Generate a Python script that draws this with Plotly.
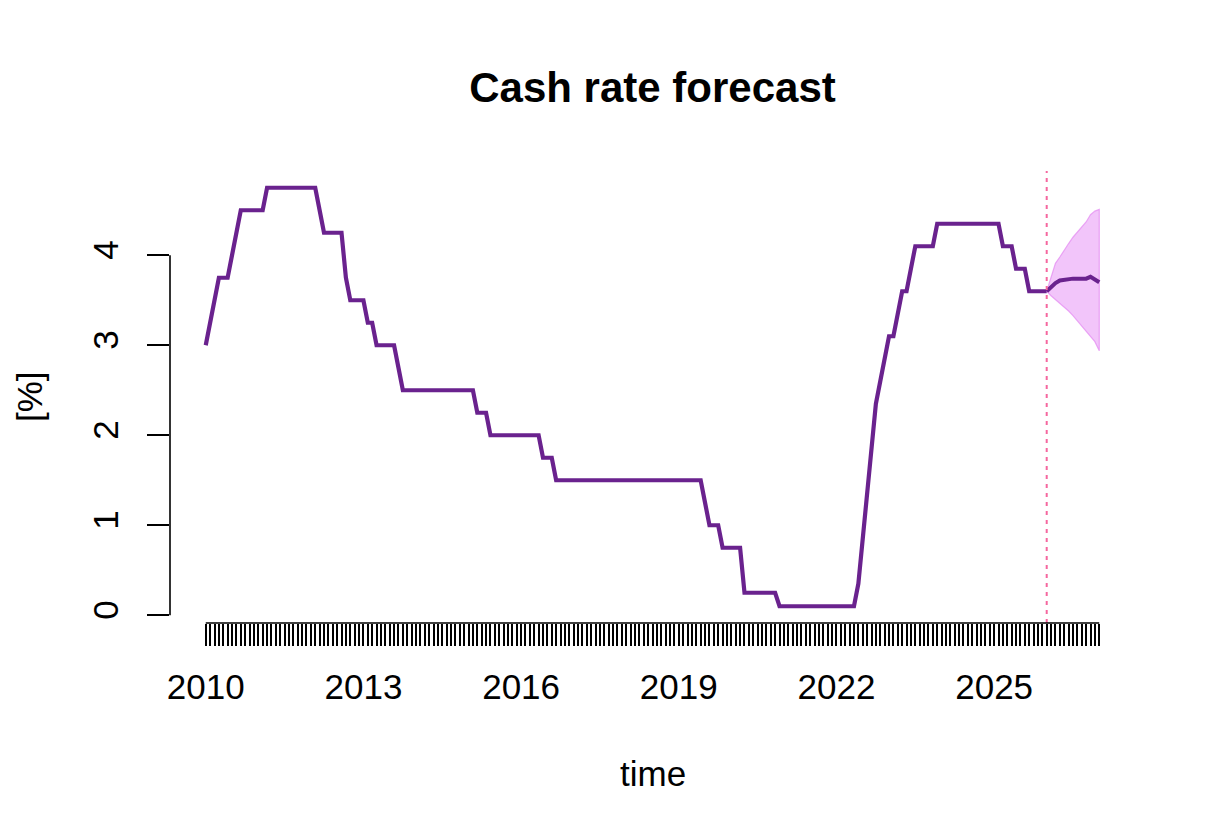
import plotly.graph_objects as go

# ---- data -----------------------------------------------------------------
start_year = 2010
freq = 12

cash_rate = [
    3.0, 3.25, 3.5, 3.75, 3.75, 3.75, 4.0, 4.25, 4.5, 4.5, 4.5, 4.5,            # 2010
    4.5, 4.5, 4.75, 4.75, 4.75, 4.75, 4.75, 4.75, 4.75, 4.75, 4.75, 4.75,      # 2011
    4.75, 4.75, 4.5, 4.25, 4.25, 4.25, 4.25, 4.25, 3.75, 3.5, 3.5, 3.5,        # 2012
    3.5, 3.25, 3.25, 3.0, 3.0, 3.0, 3.0, 3.0, 2.75, 2.5, 2.5, 2.5,             # 2013
    2.5, 2.5, 2.5, 2.5, 2.5, 2.5, 2.5, 2.5, 2.5, 2.5, 2.5, 2.5,                # 2014
    2.5, 2.5, 2.25, 2.25, 2.25, 2.0, 2.0, 2.0, 2.0, 2.0, 2.0, 2.0,             # 2015
    2.0, 2.0, 2.0, 2.0, 2.0, 1.75, 1.75, 1.75, 1.5, 1.5, 1.5, 1.5,             # 2016
    1.5, 1.5, 1.5, 1.5, 1.5, 1.5, 1.5, 1.5, 1.5, 1.5, 1.5, 1.5,                # 2017
    1.5, 1.5, 1.5, 1.5, 1.5, 1.5, 1.5, 1.5, 1.5, 1.5, 1.5, 1.5,                # 2018
    1.5, 1.5, 1.5, 1.5, 1.5, 1.5, 1.25, 1.0, 1.0, 1.0, 0.75, 0.75,             # 2019
    0.75, 0.75, 0.75, 0.25, 0.25, 0.25, 0.25, 0.25, 0.25, 0.25, 0.25, 0.1,     # 2020
    0.1, 0.1, 0.1, 0.1, 0.1, 0.1, 0.1, 0.1, 0.1, 0.1, 0.1, 0.1,                # 2021
    0.1, 0.1, 0.1, 0.1, 0.1, 0.35, 0.85, 1.35, 1.85, 2.35, 2.6, 2.85,          # 2022
    3.1, 3.1, 3.35, 3.6, 3.6, 3.85, 4.1, 4.1, 4.1, 4.1, 4.1, 4.35,             # 2023
    4.35, 4.35, 4.35, 4.35, 4.35, 4.35, 4.35, 4.35, 4.35, 4.35, 4.35, 4.35,    # 2024
    4.35, 4.35, 4.1, 4.1, 4.1, 3.85, 3.85, 3.85, 3.6, 3.6, 3.6, 3.6,           # 2025
    3.6,                                                                       # 2026
]

forecast_mean = [3.60, 3.65, 3.69, 3.72, 3.73, 3.74, 3.74, 3.74, 3.74, 3.74, 3.76, 3.73, 3.70]
forecast_upper = [3.60, 3.77, 3.91, 3.98, 4.06, 4.13, 4.20, 4.26, 4.31, 4.37, 4.45, 4.49, 4.51]
forecast_lower = [3.60, 3.55, 3.50, 3.46, 3.42, 3.38, 3.33, 3.27, 3.22, 3.16, 3.10, 3.04, 2.94]

x_label_years = [2010, 2013, 2016, 2019, 2022, 2025]
y_ticks = [0, 1, 2, 3, 4]

# ---- derived time index (like an R ts object) -------------------------------
n_hist = len(cash_rate)
t_hist = [start_year + i / freq for i in range(n_hist)]
t_fc = [start_year + (n_hist - 1 + i) / freq for i in range(len(forecast_mean))]
t_all = t_hist + t_fc[1:]

# R-style 4% axis extension
xmin, xmax = t_all[0], t_all[-1]
ymin = min(cash_rate + forecast_lower)
ymax = max(cash_rate + forecast_upper)
xr = [xmin - 0.04 * (xmax - xmin), xmax + 0.04 * (xmax - xmin)]
yr = [ymin - 0.04 * (ymax - ymin), ymax + 0.04 * (ymax - ymin)]

tick_text = []
for t in t_all:
    tr = round(t, 6)
    is_lab = abs(tr - round(tr)) < 1e-6 and int(round(tr)) in x_label_years
    tick_text.append(str(int(round(tr))) if is_lab else "")

LINE = "#6A228E"
FILL = "rgba(232, 150, 245, 0.55)"
EDGE = "rgba(228, 140, 242, 0.75)"
VLINE = "#F5679F"
FONT = "Liberation Sans, Arial, Helvetica, sans-serif"

W, H = 1214, 828   # page body adds an 8px offset

fig = go.Figure()

# forecast band
fig.add_trace(go.Scatter(
    x=t_fc + t_fc[::-1], y=forecast_upper + forecast_lower[::-1],
    fill="toself", fillcolor=FILL, line=dict(color=EDGE, width=1.2),
    mode="lines", hoverinfo="skip", showlegend=False))

# history
fig.add_trace(go.Scatter(x=t_hist, y=cash_rate, mode="lines",
                         line=dict(color=LINE, width=4.2), showlegend=False))
# forecast mean
fig.add_trace(go.Scatter(x=t_fc, y=forecast_mean, mode="lines",
                         line=dict(color=LINE, width=4), showlegend=False))

# dashed vertical line at forecast origin
fig.add_shape(type="line", xref="x", yref="paper", x0=t_hist[-1], x1=t_hist[-1],
              y0=0, y1=1, line=dict(color=VLINE, width=2, dash="4px,5px"), layer="above")

# R-style axis lines spanning only the tick range
fig.add_shape(type="line", xref="x", yref="paper", x0=t_all[0], x1=t_all[-1],
              y0=0, y1=0, line=dict(color="black", width=1.6))
fig.add_shape(type="line", xref="paper", yref="y", x0=0, x1=0,
              y0=y_ticks[0], y1=y_ticks[-1], line=dict(color="black", width=1.6))

fig.update_layout(
    width=W, height=H,
    paper_bgcolor="white", plot_bgcolor="white",
    margin=dict(l=162, r=87, t=163, b=213),
    font=dict(family=FONT, size=35, color="black"),
    title=dict(text="<b>Cash rate forecast</b>", x=0.5, xanchor="center",
               xref="paper", y=1 - 79 / H, yref="container", yanchor="middle",
               font=dict(family=FONT, size=42, color="black")),
    xaxis=dict(range=xr, showgrid=False, zeroline=False, showline=False,
               tickmode="array", tickvals=t_all, ticktext=tick_text,
               ticks="outside", ticklen=22, tickwidth=1.5, tickcolor="black",
               tickangle=0, tickfont=dict(family=FONT, size=35),
               ticklabelstandoff=11, automargin=False),
    yaxis=dict(range=yr, showgrid=False, zeroline=False, showline=False,
               tickmode="array", tickvals=y_ticks, ticktext=[str(v) for v in y_ticks],
               ticks="outside", ticklen=22, tickwidth=1.5, tickcolor="black",
               tickangle=-90, tickfont=dict(family=FONT, size=35),
               ticklabelstandoff=15, automargin=False),
    annotations=[
        dict(text="time", xref="paper", yref="paper", x=0.5, y=0, yshift=-150,
             xanchor="center", yanchor="middle", showarrow=False,
             font=dict(family=FONT, size=35)),
        dict(text="[%]", xref="paper", yref="paper", x=0, y=0.5, xshift=-141,
             xanchor="center", yanchor="middle", showarrow=False, textangle=-90,
             borderpad=0, font=dict(family=FONT, size=35)),
    ],
)

fig.write_html("out.html")
